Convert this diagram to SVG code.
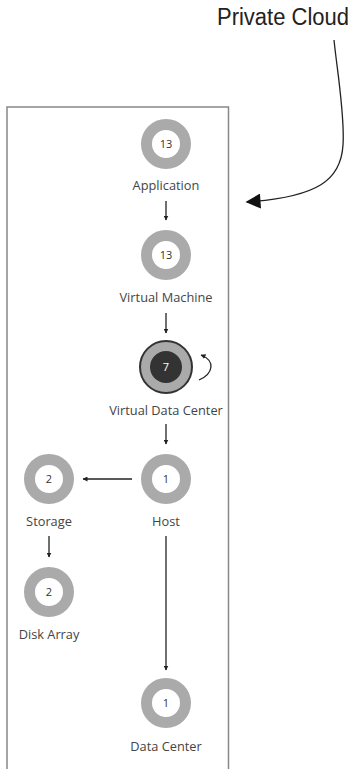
<svg xmlns="http://www.w3.org/2000/svg" width="354" height="769" viewBox="0 0 354 769">
<defs>
<style>
.ring{fill:none;stroke:#aaaaaa;stroke-width:11}
.num{font-family:"Open Sans","DejaVu Sans",sans-serif;font-size:11px;fill:#333;text-anchor:middle}
.lbl{font-family:"Open Sans","DejaVu Sans",sans-serif;font-size:12.8px;fill:#444;text-anchor:middle}
.edge{fill:none;stroke:#222;stroke-width:1.3}
</style>
<marker id="ah" viewBox="0 0 10 10" refX="9" refY="5" markerWidth="5" markerHeight="5" markerUnits="userSpaceOnUse" orient="auto">
<path d="M0,0 L10,5 L0,10 z" fill="#222"/>
</marker>
<marker id="big" viewBox="0 0 10 10" refX="9" refY="5" markerWidth="16" markerHeight="15" markerUnits="userSpaceOnUse" orient="auto">
<path d="M0,0 L10,5 L0,10 z" fill="#111"/>
</marker>
</defs>
<rect width="354" height="769" fill="#fff"/>
<path d="M7,775 L7,107 L228.5,107 L228.5,775" fill="none" stroke="#888" stroke-width="1.5"/>
<text x="217" y="25" font-family="'Liberation Sans',Arial,sans-serif" font-size="23" fill="#222" textLength="132" lengthAdjust="spacingAndGlyphs">Private Cloud</text>
<g id="connectors">
<path class="edge" d="M334,40 C337,70 345,115 343,145 C341,180 318,197 247,202" stroke-width="1.6" marker-end="url(#big)"/>
<path class="edge" d="M166,201 L166,220" marker-end="url(#ah)"/>
<path class="edge" d="M166,313 L166,333" marker-end="url(#ah)"/>
<path class="edge" d="M166,424 L166,444" marker-end="url(#ah)"/>
<path class="edge" d="M132,479 L83,479" marker-end="url(#ah)"/>
<path class="edge" d="M49,536 L49,557" marker-end="url(#ah)"/>
<path class="edge" d="M166,536 L166,670" marker-end="url(#ah)"/>
<path class="edge" d="M199,380 C213,374 216,361 201,355" marker-end="url(#ah)"/>
</g>
<g id="application">
<circle class="ring" cx="166" cy="144" r="19.5"/>
<text class="num" x="166" y="148">13</text>
<text class="lbl" x="166" y="190">Application</text>
</g>
<g id="virtual-machine">
<circle class="ring" cx="166" cy="255" r="19.5"/>
<text class="num" x="166" y="259">13</text>
<text class="lbl" x="166" y="302">Virtual Machine</text>
</g>
<g id="virtual-data-center">
<circle cx="166" cy="367" r="26" fill="#aaaaaa" stroke="#333" stroke-width="2"/>
<circle cx="166" cy="367" r="16" fill="#333"/>
<text class="num" x="166" y="371" fill="#fff" style="fill:#fff">7</text>
<text class="lbl" x="166" y="415">Virtual Data Center</text>
</g>
<g id="host">
<circle class="ring" cx="166" cy="479" r="19.5"/>
<text class="num" x="166" y="483">1</text>
<text class="lbl" x="166" y="526">Host</text>
</g>
<g id="storage">
<circle class="ring" cx="49" cy="479" r="19.5"/>
<text class="num" x="49" y="483">2</text>
<text class="lbl" x="49" y="526">Storage</text>
</g>
<g id="disk-array">
<circle class="ring" cx="49" cy="592" r="19.5"/>
<text class="num" x="49" y="596">2</text>
<text class="lbl" x="49" y="639">Disk Array</text>
</g>
<g id="data-center">
<circle class="ring" cx="166" cy="703" r="19.5"/>
<text class="num" x="166" y="707">1</text>
<text class="lbl" x="166" y="751">Data Center</text>
</g>
</svg>
